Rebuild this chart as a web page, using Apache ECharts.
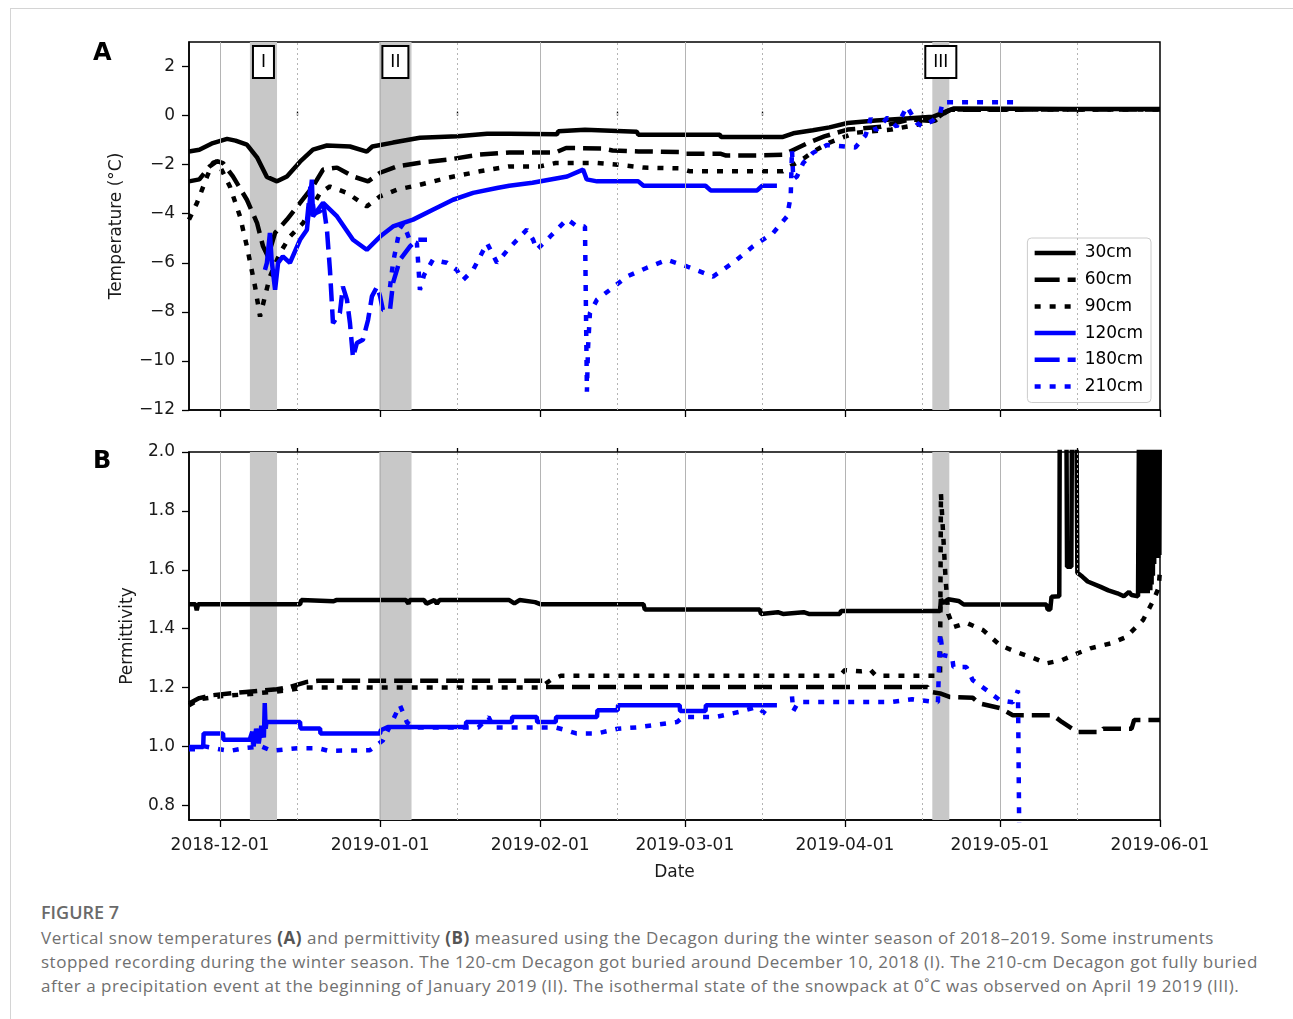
<!DOCTYPE html>
<html>
<head>
<meta charset="utf-8">
<title>Figure 7</title>
<script src="https://cdn.jsdelivr.net/npm/echarts@6.0.0/dist/echarts.min.js"></script>
<style>
  html, body { margin: 0; padding: 0; background: #fff; overflow: hidden; }
  #frame { position: absolute; left: 10px; top: 8px; right: -20px; bottom: -20px;
           border-top: 1px solid #d4d4d4; border-left: 1px solid #d4d4d4; }
  #chart { position: absolute; left: 0; top: 0; width: 1293px; height: 890px; }
  #caption { position: absolute; left: 41px; top: 900px; width: 1250px;
             font-family: "Open Sans", "Noto Sans", sans-serif; color: #707070; }
  #caption .fig { font-size: 18px; font-weight: 600; color: #6a6a6a; line-height: 24px; }
  #caption p { margin: 2px 0 0 0; font-size: 17px; letter-spacing: 0.5px; line-height: 24px; white-space: nowrap; }
  #caption b { color: #555; }
</style>
</head>
<body>
<div id="frame"></div>
<div id="chart"></div>
<div id="caption">
  <div class="fig">FIGURE 7</div>
  <p>Vertical snow temperatures <b>(A)</b> and permittivity <b>(B)</b> measured using the Decagon during the winter season of 2018–2019. Some instruments<br>stopped recording during the winter season. The 120-cm Decagon got buried around December 10, 2018 (I). The 210-cm Decagon got fully buried<br>after a precipitation event at the beginning of January 2019 (II). The isothermal state of the snowpack at 0˚C was observed on April 19 2019 (III).</p>
</div>
<script>
// ---- data (dates as 'YYYY-MM-DD HH') ----
const depths = ['30cm', '60cm', '90cm', '120cm', '180cm', '210cm'];

const xStart = '2018-11-25';
const xEnd = '2019-06-01';
const monthTicks = ['2018-12-01', '2019-01-01', '2019-02-01', '2019-03-01', '2019-04-01', '2019-05-01', '2019-06-01'];
const midTicks = ['2018-12-16', '2019-01-16', '2019-02-16', '2019-03-16', '2019-04-16', '2019-05-16'];
const tempTicks = [-12, -10, -8, -6, -4, -2, 0, 2];
const permTicks = [0.8, 1.0, 1.2, 1.4, 1.6, 1.8, 2.0];

// shaded periods I, II, III
const bandNames = ['I', 'II', 'III'];
const bandStart = ['2018-12-06 19', '2018-12-31 20', '2019-04-17 22'];
const bandEnd = ['2018-12-12 01', '2019-01-07 02', '2019-04-21 05'];

// (A) temperature, degC
const temp30 = [
  ['2018-11-25', -1.46], ['2018-11-27', -1.39], ['2018-11-29 15', -1.12], ['2018-12-02 09', -0.95],
  ['2018-12-04', -1.02], ['2018-12-06 05', -1.18], ['2018-12-08 04', -1.7], ['2018-12-10 02', -2.5],
  ['2018-12-12 01', -2.68], ['2018-12-13 23', -2.48], ['2018-12-16 12', -1.88], ['2018-12-19', -1.39],
  ['2018-12-21 17', -1.22], ['2018-12-26 04', -1.26], ['2018-12-29 10', -1.47], ['2018-12-30 12', -1.26],
  ['2019-01-03 12', -1.1], ['2019-01-08 17', -0.9], ['2019-01-16', -0.84], ['2019-01-21 17', -0.74],
  ['2019-01-26', -0.74], ['2019-02-04 06', -0.76], ['2019-02-04 12', -0.64], ['2019-02-09 16', -0.58],
  ['2019-02-10', -0.66], ['2019-02-19 17', -0.66], ['2019-02-20', -0.78], ['2019-03-07 19', -0.78],
  ['2019-03-08', -0.87], ['2019-03-20', -0.87], ['2019-03-22', -0.72], ['2019-03-25 19', -0.6],
  ['2019-03-29', -0.48], ['2019-04-01 12', -0.3], ['2019-04-07', -0.2], ['2019-04-18', -0.05],
  ['2019-04-20 18', 0.18], ['2019-04-22', 0.29], ['2019-05-15', 0.27], ['2019-06-01', 0.27]
];
const temp60 = [
  ['2018-11-25', -2.68], ['2018-11-27', -2.6], ['2018-11-29', -2.07], ['2018-11-30 10', -1.86],
  ['2018-12-01 14', -1.94], ['2018-12-03 12', -2.48], ['2018-12-06 05', -3.43], ['2018-12-08 04', -4.37],
  ['2018-12-09 08', -5.33], ['2018-12-10 07', -5.74], ['2018-12-11 16', -4.78], ['2018-12-13 23', -4.24],
  ['2018-12-16 12', -3.56], ['2018-12-19', -2.89], ['2018-12-20 23', -2.2], ['2018-12-23 16', -2.12],
  ['2018-12-26 18', -2.48], ['2018-12-29 16', -2.68], ['2019-01-01', -2.33], ['2019-01-04 06', -2.07],
  ['2019-01-08 17', -1.92], ['2019-01-13 23', -1.8], ['2019-01-20 08', -1.59], ['2019-01-26', -1.5],
  ['2019-02-04', -1.5], ['2019-02-06', -1.32], ['2019-02-13', -1.34], ['2019-02-15', -1.42],
  ['2019-02-20', -1.46], ['2019-02-28', -1.48], ['2019-03-01', -1.56], ['2019-03-08', -1.56],
  ['2019-03-09', -1.63], ['2019-03-16', -1.62], ['2019-03-20', -1.6], ['2019-03-22 12', -1.35],
  ['2019-03-25', -1.1], ['2019-03-28', -0.85], ['2019-04-01 12', -0.57], ['2019-04-08', -0.45],
  ['2019-04-13 12', -0.16], ['2019-04-18', -0.22], ['2019-04-20', 0.08], ['2019-04-21 12', 0.24],
  ['2019-06-01', 0.25]
];
const temp90 = [
  ['2018-11-25', -4.24], ['2018-11-26 13', -3.56], ['2018-11-28 12', -2.48], ['2018-11-29 15', -1.93],
  ['2018-11-30 12', -1.86], ['2018-12-02 22', -2.89], ['2018-12-04 21', -4.11], ['2018-12-06 05', -5.33],
  ['2018-12-07 19', -6.97], ['2018-12-08 18', -8.19], ['2018-12-09 17', -7.37], ['2018-12-10 16', -6.56],
  ['2018-12-12 15', -5.6], ['2018-12-14 13', -4.93], ['2018-12-17 02', -4.38], ['2018-12-20 09', -3.15],
  ['2018-12-22 07', -2.89], ['2018-12-25 14', -3.15], ['2018-12-29 10', -3.7], ['2019-01-01', -3.29],
  ['2019-01-04 06', -3.02], ['2019-01-08 17', -2.82], ['2019-01-13 23', -2.54], ['2019-01-20 08', -2.27],
  ['2019-01-26', -2.07], ['2019-02-01', -2.07], ['2019-02-04', -1.93], ['2019-02-12', -1.93],
  ['2019-02-16', -2.0], ['2019-02-21', -2.12], ['2019-02-28', -2.15], ['2019-03-02', -2.27],
  ['2019-03-20', -2.27], ['2019-03-22', -2.0], ['2019-03-24', -1.75], ['2019-03-26', -1.45],
  ['2019-03-29', -1.1], ['2019-04-03', -0.7], ['2019-04-10', -0.57], ['2019-04-15', -0.37],
  ['2019-04-18 12', -0.2], ['2019-04-20 18', 0.18], ['2019-04-22', 0.25], ['2019-06-01', 0.25]
];
const temp120 = [
  ['2018-12-09 17', -6.29], ['2018-12-10 02', -6.0], ['2018-12-10 16', -4.78], ['2018-12-11', -5.9],
  ['2018-12-11 16', -7.1], ['2018-12-12 06', -6.0], ['2018-12-13 04', -5.74], ['2018-12-14 13', -6.0],
  ['2018-12-16 12', -5.06], ['2018-12-17 20', -4.65], ['2018-12-18 19', -2.61], ['2018-12-19', -4.11],
  ['2018-12-20 23', -3.56], ['2018-12-23 16', -4.11], ['2018-12-26 18', -5.06], ['2018-12-29 10', -5.47],
  ['2019-01-01', -4.93], ['2019-01-03 12', -4.52], ['2019-01-07 09', -4.24], ['2019-01-11 05', -3.84],
  ['2019-01-15 03', -3.43], ['2019-01-19', -3.15], ['2019-01-23 15', -2.95], ['2019-01-26', -2.86],
  ['2019-01-30 12', -2.74], ['2019-02-06 05', -2.48], ['2019-02-09 07', -2.2], ['2019-02-10', -2.6],
  ['2019-02-12', -2.68], ['2019-02-20', -2.68], ['2019-02-21', -2.86], ['2019-03-05', -2.86],
  ['2019-03-06', -3.05], ['2019-03-15', -3.05], ['2019-03-16', -2.86], ['2019-03-18 20', -2.86]
];
const temp180 = [
  ['2018-12-17 20', -4.3], ['2018-12-18 12', -2.9], ['2018-12-19 06', -4.0], ['2018-12-20 09', -3.9],
  ['2018-12-21', -3.6], ['2018-12-21 17', -4.65], ['2018-12-22 07', -6.3], ['2018-12-22 21', -8.46],
  ['2018-12-24 05', -8.05], ['2018-12-24 19', -6.97], ['2018-12-25 14', -7.5], ['2018-12-26 04', -8.46],
  ['2018-12-26 18', -9.86], ['2018-12-27 12', -9.27], ['2018-12-28 16', -9.14], ['2018-12-29 16', -8.33],
  ['2018-12-30 10', -7.37], ['2018-12-31 10', -6.97], ['2019-01-01', -7.37], ['2019-01-01 13', -7.92],
  ['2019-01-02 22', -7.92], ['2019-01-03 12', -6.82], ['2019-01-04 20', -5.88], ['2019-01-06 19', -5.33],
  ['2019-01-08 03', -5.06], ['2019-01-10 02', -5.06]
];
const temp210 = [
  ['2019-01-02 22', -7.0], ['2019-01-03 12', -6.0], ['2019-01-04 20', -4.6], ['2019-01-05 12', -4.4],
  ['2019-01-06 19', -5.1], ['2019-01-08 03', -5.2], ['2019-01-08 17', -7.1], ['2019-01-09 12', -6.5],
  ['2019-01-11 05', -5.88], ['2019-01-13 23', -6.0], ['2019-01-15 20', -6.29], ['2019-01-17 01', -6.7],
  ['2019-01-19', -6.29], ['2019-01-21 17', -5.2], ['2019-01-23 15', -6.0], ['2019-01-26', -5.4],
  ['2019-01-29 10', -4.65], ['2019-01-30 15', -5.06], ['2019-01-31 08', -5.47], ['2019-02-02 22', -4.93],
  ['2019-02-06 05', -4.22], ['2019-02-08 03', -4.52], ['2019-02-09 16', -4.52], ['2019-02-10 01', -11.25],
  ['2019-02-10 06', -9.5], ['2019-02-10 15', -8.05], ['2019-02-12', -7.5], ['2019-02-14 12', -7.1],
  ['2019-02-17 19', -6.56], ['2019-02-21 16', -6.2], ['2019-02-25 13', -5.88], ['2019-03-01 10', -6.15],
  ['2019-03-06 11', -6.56], ['2019-03-10 08', -6.0], ['2019-03-14 05', -5.33], ['2019-03-18 02', -4.79],
  ['2019-03-20 19', -4.11], ['2019-03-21 12', -3.29], ['2019-03-21 18', -1.39], ['2019-03-22', -2.6],
  ['2019-03-22 17', -2.48], ['2019-03-23 22', -1.93], ['2019-03-25 19', -1.52], ['2019-03-28 12', -1.2],
  ['2019-04-03', -1.3], ['2019-04-05', -0.8], ['2019-04-06', -0.1], ['2019-04-07', -0.6],
  ['2019-04-09 06', -0.08], ['2019-04-11', -0.45], ['2019-04-13', 0.37], ['2019-04-14 22', -0.3],
  ['2019-04-16', -0.44], ['2019-04-18', -0.2], ['2019-04-19 10', 0.08], ['2019-04-19 22', 0.54],
  ['2019-05-04 12', 0.54]
];

// (B) permittivity
const perm30 = [
  ['2018-11-25', 1.483], ['2018-11-26 06', 1.483], ['2018-11-26 12', 1.462], ['2018-11-26 18', 1.483],
  ['2018-12-16 12', 1.483], ['2018-12-16 18', 1.497], ['2018-12-23', 1.493], ['2018-12-23 12', 1.497],
  ['2019-01-06', 1.497], ['2019-01-06 12', 1.485], ['2019-01-06 18', 1.497], ['2019-01-09 12', 1.497],
  ['2019-01-10', 1.485], ['2019-01-11 12', 1.497], ['2019-01-12', 1.485], ['2019-01-12 12', 1.497],
  ['2019-01-26', 1.497], ['2019-01-27', 1.486], ['2019-01-28', 1.497], ['2019-01-31', 1.49],
  ['2019-02-01', 1.483], ['2019-02-21', 1.483], ['2019-02-21 06', 1.465], ['2019-03-15 12', 1.465],
  ['2019-03-15 18', 1.45], ['2019-03-19', 1.456], ['2019-03-20', 1.45], ['2019-03-24', 1.456],
  ['2019-03-25', 1.45], ['2019-03-31', 1.45], ['2019-03-31 06', 1.46], ['2019-04-19 10', 1.46],
  ['2019-04-19 14', 1.5], ['2019-04-20', 1.487], ['2019-04-21', 1.5], ['2019-04-23', 1.494],
  ['2019-04-24', 1.482], ['2019-05-10', 1.482], ['2019-05-10 06', 1.465], ['2019-05-10 18', 1.465],
  ['2019-05-11', 1.508], ['2019-05-12 12', 1.51], ['2019-05-12 15', 2.3], ['2019-05-13 20', 2.3],
  ['2019-05-14', 1.61], ['2019-05-14 20', 1.61], ['2019-05-15', 2.3], ['2019-05-15 18', 2.3],
  ['2019-05-16', 1.59], ['2019-05-17', 1.576], ['2019-05-18', 1.56], ['2019-05-20 12', 1.542],
  ['2019-05-22', 1.53], ['2019-05-23 18', 1.52], ['2019-05-25', 1.51], ['2019-05-26', 1.525],
  ['2019-05-26 12', 1.514], ['2019-05-27 18', 1.51],
  ['2019-05-28', 2.3], ['2019-05-28 03', 1.52], ['2019-05-28 06', 2.3], ['2019-05-28 09', 1.52],
  ['2019-05-28 12', 2.3], ['2019-05-28 15', 1.53], ['2019-05-28 18', 2.3], ['2019-05-28 21', 1.52],
  ['2019-05-29', 2.3], ['2019-05-29 03', 1.52], ['2019-05-29 06', 2.3], ['2019-05-29 09', 1.53],
  ['2019-05-29 12', 2.3], ['2019-05-29 15', 1.52], ['2019-05-29 18', 2.3], ['2019-05-29 21', 1.53],
  ['2019-05-30', 2.3], ['2019-05-30 03', 1.53], ['2019-05-30 06', 2.3], ['2019-05-30 09', 1.55],
  ['2019-05-30 12', 2.3], ['2019-05-30 15', 1.58], ['2019-05-30 18', 2.3], ['2019-05-30 21', 1.62],
  ['2019-05-31', 2.3], ['2019-05-31 03', 1.65], ['2019-05-31 06', 2.3], ['2019-05-31 09', 1.65],
  ['2019-05-31 12', 2.3], ['2019-05-31 15', 1.64], ['2019-05-31 18', 2.3], ['2019-05-31 21', 1.65],
  ['2019-06-01', 2.3]
];
const perm60 = [
  ['2018-11-25', 1.146], ['2018-11-27', 1.164], ['2018-11-29 15', 1.174], ['2018-12-06', 1.185],
  ['2018-12-12', 1.194], ['2018-12-14 12', 1.202], ['2018-12-17 20', 1.219], ['2018-12-20', 1.223],
  ['2019-02-01 12', 1.223], ['2019-02-02', 1.202], ['2019-04-17', 1.202], ['2019-04-17 12', 1.185],
  ['2019-04-19 10', 1.18], ['2019-04-21 06', 1.168], ['2019-04-25 18', 1.165], ['2019-04-27', 1.146],
  ['2019-05-01', 1.13], ['2019-05-03 12', 1.106], ['2019-05-11 06', 1.106], ['2019-05-13', 1.083],
  ['2019-05-16', 1.049], ['2019-05-20 12', 1.049], ['2019-05-21', 1.06], ['2019-05-26 12', 1.06],
  ['2019-05-27', 1.09], ['2019-06-01', 1.09]
];
const perm90 = [
  ['2018-11-25', 1.14], ['2018-11-27', 1.16], ['2018-12-01', 1.17], ['2018-12-08', 1.18],
  ['2018-12-14', 1.19], ['2018-12-17', 1.2], ['2019-02-01', 1.2], ['2019-02-03', 1.225],
  ['2019-02-05', 1.24], ['2019-03-31', 1.24], ['2019-04-01', 1.259], ['2019-04-04', 1.255],
  ['2019-04-06', 1.259], ['2019-04-07', 1.24], ['2019-04-19 10', 1.24], ['2019-04-19 14', 1.86],
  ['2019-04-20 12', 1.565], ['2019-04-21', 1.45], ['2019-04-22', 1.405], ['2019-04-24 12', 1.42],
  ['2019-04-27 18', 1.395], ['2019-05-01', 1.344], ['2019-05-04 06', 1.32], ['2019-05-07 12', 1.30],
  ['2019-05-10', 1.282], ['2019-05-13', 1.293], ['2019-05-16', 1.316], ['2019-05-18 12', 1.333],
  ['2019-05-22 12', 1.35], ['2019-05-25 12', 1.372], ['2019-05-28 18', 1.43], ['2019-05-30 18', 1.497],
  ['2019-05-31 18', 1.54], ['2019-06-01', 1.6]
];
const perm120 = [
  ['2018-11-25', 0.998], ['2018-11-27 18', 0.998], ['2018-11-27 20', 1.044], ['2018-12-01 14', 1.044],
  ['2018-12-01 16', 1.023], ['2018-12-06 18', 1.023], ['2018-12-07 06', 1.05], ['2018-12-07 12', 1.0],
  ['2018-12-08', 1.06], ['2018-12-08 12', 1.01], ['2018-12-09', 1.07], ['2018-12-09 12', 1.03],
  ['2018-12-09 16', 1.147], ['2018-12-09 20', 1.06], ['2018-12-10', 1.083], ['2018-12-16 12', 1.083],
  ['2018-12-16 14', 1.061], ['2018-12-20 09', 1.061], ['2018-12-20 11', 1.044], ['2019-01-01', 1.044],
  ['2019-01-01 03', 1.055], ['2019-01-02 12', 1.066], ['2019-01-17 14', 1.066], ['2019-01-17 16', 1.083],
  ['2019-01-26 12', 1.083], ['2019-01-26 14', 1.10], ['2019-01-31 08', 1.10], ['2019-01-31 10', 1.083],
  ['2019-02-04', 1.083], ['2019-02-04 02', 1.10], ['2019-02-12', 1.10], ['2019-02-12 02', 1.123],
  ['2019-02-16', 1.123], ['2019-02-16 02', 1.14], ['2019-02-28', 1.14], ['2019-02-28 02', 1.12],
  ['2019-03-05', 1.12], ['2019-03-05 02', 1.14], ['2019-03-18 20', 1.14]
];
const perm210 = [
  ['2018-11-25', 0.99], ['2018-11-27', 0.99], ['2018-11-28', 1.0], ['2018-12-01', 0.99],
  ['2018-12-03', 0.985], ['2018-12-06', 0.995], ['2018-12-09', 1.0], ['2018-12-11', 0.985],
  ['2018-12-16', 0.994], ['2018-12-20', 0.994], ['2018-12-22', 0.985], ['2018-12-30', 0.987],
  ['2019-01-01 13', 1.02], ['2019-01-03 12', 1.09], ['2019-01-04 20', 1.14], ['2019-01-06 06', 1.08],
  ['2019-01-08', 1.064], ['2019-01-20', 1.064], ['2019-01-22', 1.10], ['2019-01-23', 1.064],
  ['2019-02-04', 1.064], ['2019-02-06', 1.055], ['2019-02-08', 1.044], ['2019-02-12', 1.044],
  ['2019-02-16', 1.06], ['2019-02-20', 1.065], ['2019-02-27 12', 1.083], ['2019-02-28 16', 1.10],
  ['2019-03-07', 1.10], ['2019-03-11 12', 1.117], ['2019-03-15', 1.134], ['2019-03-17', 1.106],
  ['2019-03-18', 1.106], ['2019-03-20', null], ['2019-03-21 18', 1.17], ['2019-03-22', 1.12],
  ['2019-03-23', 1.151], ['2019-04-10', 1.151], ['2019-04-14', 1.16], ['2019-04-19', 1.15],
  ['2019-04-19 10', 1.385], ['2019-04-20', 1.31], ['2019-04-21 18', 1.304], ['2019-04-22', 1.27],
  ['2019-04-24 12', 1.27], ['2019-04-25 18', 1.225], ['2019-04-28 12', 1.19], ['2019-05-01', 1.157],
  ['2019-05-03 12', 1.15], ['2019-05-04 12', 1.19], ['2019-05-04 18', 0.7]
];

// ---- helpers ----
function ts(s) {
  const [d, h] = s.split(' ');
  const [y, m, day] = d.split('-').map(Number);
  return new Date(y, m - 1, day, h ? +h : 0).getTime();
}
const toData = (arr) => arr.map(([d, v]) => [ts(d), v]);
const pad = (n) => String(n).padStart(2, '0');
const fmtDate = (v) => {
  const d = new Date(v);
  return d.getFullYear() + '-' + pad(d.getMonth() + 1) + '-' + pad(d.getDate());
};

const font = 'DejaVu Sans';
const colors = ['#000000', '#000000', '#000000', '#0000ff', '#0000ff', '#0000ff'];
const dashes = ['solid', [18, 8], [6, 9], 'solid', [18, 8], [6, 9]];
const legendDashes = ['solid', [25, 8], [6, 9], 'solid', [25, 8], [6, 9]];
const lineW = 4.5;

const chart = echarts.init(document.getElementById('chart'), null, { renderer: 'canvas' });

const grids = [
  { left: 189, top: 42, width: 971, height: 368 },
  { left: 189, top: 452, width: 971, height: 368 }
];

function xAxes(gi, withLabels) {
  const common = {
    type: 'value', gridIndex: gi, min: ts(xStart), max: ts(xEnd),
    splitLine: { show: false }
  };
  return [
    {
      ...common,
      axisLine: { show: true, onZero: false, lineStyle: { color: '#000', width: 1.5 } },
      axisTick: { show: true, customValues: monthTicks.map(ts), length: 7, lineStyle: { color: '#000', width: 1.3 } },
      axisLabel: {
        show: withLabels, customValues: monthTicks.map(ts), formatter: fmtDate,
        fontSize: 17, fontFamily: font, color: '#1a1a1a', margin: 17
      },
      name: withLabels ? 'Date' : '',
      nameLocation: 'middle', nameGap: 44,
      nameTextStyle: { fontSize: 17, fontFamily: font, color: '#1a1a1a' }
    },
    {
      ...common,
      axisLine: { show: false },
      axisLabel: { show: false },
      axisTick: { show: true, customValues: midTicks.map(ts), length: 4, lineStyle: { color: '#000', width: 1.3 } }
    }
  ];
}

function yAxis(gi, min, max, ticks, fmt, name, gap) {
  return {
    type: 'value', gridIndex: gi, min: min, max: max,
    splitLine: { show: false },
    axisLine: { show: true, onZero: false, lineStyle: { color: '#000', width: 1.5 } },
    axisTick: { show: true, customValues: ticks, length: 7, lineStyle: { color: '#000', width: 1.3 } },
    axisLabel: { customValues: ticks, formatter: fmt, fontSize: 17, fontFamily: font, color: '#1a1a1a', margin: 14 },
    name: name, nameLocation: 'middle', nameGap: gap,
    nameTextStyle: { fontSize: 17, fontFamily: font, color: '#1a1a1a' }
  };
}

// bands + vertical grid lines drawn under the data
function backdrop(xi, yi, withLabels) {
  const gridLines = monthTicks.slice(0, -1).map((d) => ({ xAxis: ts(d) }))
    .concat(midTicks.map((d) => ({ xAxis: ts(d), lineStyle: { type: [2, 3], color: '#b4b4b4', width: 1 } })));
  return [
    {
      name: 'bands' + xi, type: 'line', xAxisIndex: xi, yAxisIndex: yi, data: [], z: 1, silent: true,
      markArea: {
        silent: true,
        itemStyle: { color: '#c8c8c8' },
        label: withLabels ? {
          show: true, position: 'insideTop', distance: 5, color: '#000', fontSize: 17, fontFamily: font,
          backgroundColor: '#fff', borderColor: '#000', borderWidth: 2, padding: [7, 7, 6, 7]
        } : { show: false },
        data: bandNames.map((n, i) => [{ name: n, xAxis: ts(bandStart[i]) }, { xAxis: ts(bandEnd[i]) }])
      }
    },
    {
      name: 'grid' + xi, type: 'line', xAxisIndex: xi, yAxisIndex: yi, data: [], z: 2, silent: true,
      markLine: {
        silent: true, symbol: ['none', 'none'], label: { show: false },
        lineStyle: { type: 'solid', color: '#b4b4b4', width: 1 },
        data: gridLines
      }
    }
  ];
}

function lineSeries(idx, data, xi, yi) {
  return {
    name: depths[idx], type: 'line', xAxisIndex: xi, yAxisIndex: yi, z: 3,
    data: toData(data), showSymbol: false, symbol: 'none', connectNulls: false,
    lineStyle: { color: colors[idx], width: lineW, type: dashes[idx] },
    itemStyle: { color: colors[idx] }
  };
}

const tempSets = [temp30, temp60, temp90, temp120, temp180, temp210];
const permSets = [perm30, perm60, perm90, perm120, null, perm210];

const series = []
  .concat(backdrop(0, 0, true))
  .concat(backdrop(2, 1, false));
tempSets.forEach((d, i) => series.push(lineSeries(i, d, 0, 0)));
permSets.forEach((d, i) => { if (d) series.push(lineSeries(i, d, 2, 1)); });

chart.setOption({
  animation: false,
  backgroundColor: 'transparent',
  textStyle: { fontFamily: font },
  grid: grids.map((g) => ({ ...g, show: true, borderColor: '#000', borderWidth: 1.5, backgroundColor: 'transparent', outerBoundsMode: 'none' })),
  xAxis: xAxes(0, false).concat(xAxes(1, true)),
  yAxis: [
    yAxis(0, -12, 3, tempTicks, (v) => String(v).replace('-', '\u2212'), 'Temperature (°C)', 64),
    yAxis(1, 0.75, 2.0, permTicks, (v) => v.toFixed(1), 'Permittivity', 53)
  ],
  legend: {
    data: depths.map((n, i) => ({
      name: n,
      itemStyle: { opacity: 0 },
      lineStyle: { type: legendDashes[i], width: lineW, color: colors[i] }
    })),
    orient: 'vertical', right: 142, top: 238,
    itemWidth: 41, itemHeight: 14, itemGap: 6.7,
    padding: [5, 8, 6, 5],
    backgroundColor: '#fff', borderColor: '#cccccc', borderWidth: 1, borderRadius: 4,
    textStyle: { fontSize: 17, fontFamily: font, color: '#000', lineHeight: 20, padding: [0, 0, 0, 4] },
    selectedMode: false
  },
  graphic: [
    { type: 'text', left: 93, top: 42, style: { text: 'A', font: 'bold 24px "DejaVu Sans"', fill: '#000' } },
    { type: 'text', left: 93, top: 450, style: { text: 'B', font: 'bold 24px "DejaVu Sans"', fill: '#000' } }
  ],
  series: series
});
</script>
</body>
</html>
